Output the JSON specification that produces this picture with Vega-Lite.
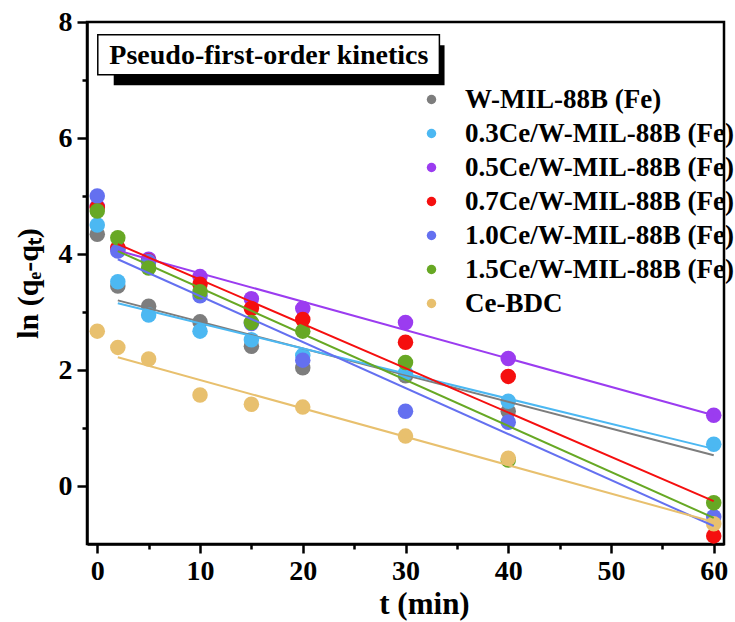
{
  "$schema": "https://vega.github.io/schema/vega-lite/v6.json",
  "width": 637,
  "height": 522,
  "autosize": "none",
  "padding": {"left": 87, "top": 22, "right": 11, "bottom": 78},
  "background": "white",
  "config": {
    "font": "Liberation Serif",
    "view": {"stroke": "black", "strokeWidth": 2.5},
    "axis": {"grid": false}
  },
  "datasets": {
    "pts": [
      {"s": "W-MIL-88B (Fe)", "t": 0, "v": 4.34},
      {"s": "W-MIL-88B (Fe)", "t": 2, "v": 3.45},
      {"s": "W-MIL-88B (Fe)", "t": 5, "v": 3.10},
      {"s": "W-MIL-88B (Fe)", "t": 10, "v": 2.83},
      {"s": "W-MIL-88B (Fe)", "t": 15, "v": 2.41},
      {"s": "W-MIL-88B (Fe)", "t": 20, "v": 2.04},
      {"s": "W-MIL-88B (Fe)", "t": 30, "v": 1.90},
      {"s": "W-MIL-88B (Fe)", "t": 40, "v": 1.29},
      {"s": "0.3Ce/W-MIL-88B (Fe)", "t": 0, "v": 4.50},
      {"s": "0.3Ce/W-MIL-88B (Fe)", "t": 2, "v": 3.52},
      {"s": "0.3Ce/W-MIL-88B (Fe)", "t": 5, "v": 2.95},
      {"s": "0.3Ce/W-MIL-88B (Fe)", "t": 10, "v": 2.67},
      {"s": "0.3Ce/W-MIL-88B (Fe)", "t": 15, "v": 2.52},
      {"s": "0.3Ce/W-MIL-88B (Fe)", "t": 20, "v": 2.25},
      {"s": "0.3Ce/W-MIL-88B (Fe)", "t": 30, "v": 1.95},
      {"s": "0.3Ce/W-MIL-88B (Fe)", "t": 40, "v": 1.46},
      {"s": "0.3Ce/W-MIL-88B (Fe)", "t": 60, "v": 0.72},
      {"s": "0.5Ce/W-MIL-88B (Fe)", "t": 0, "v": 4.82},
      {"s": "0.5Ce/W-MIL-88B (Fe)", "t": 2, "v": 4.08},
      {"s": "0.5Ce/W-MIL-88B (Fe)", "t": 5, "v": 3.91},
      {"s": "0.5Ce/W-MIL-88B (Fe)", "t": 10, "v": 3.61},
      {"s": "0.5Ce/W-MIL-88B (Fe)", "t": 15, "v": 3.23},
      {"s": "0.5Ce/W-MIL-88B (Fe)", "t": 20, "v": 3.06},
      {"s": "0.5Ce/W-MIL-88B (Fe)", "t": 30, "v": 2.82},
      {"s": "0.5Ce/W-MIL-88B (Fe)", "t": 40, "v": 2.20},
      {"s": "0.5Ce/W-MIL-88B (Fe)", "t": 60, "v": 1.22},
      {"s": "0.7Ce/W-MIL-88B (Fe)", "t": 0, "v": 4.80},
      {"s": "0.7Ce/W-MIL-88B (Fe)", "t": 2, "v": 4.11},
      {"s": "0.7Ce/W-MIL-88B (Fe)", "t": 5, "v": 3.88},
      {"s": "0.7Ce/W-MIL-88B (Fe)", "t": 10, "v": 3.48},
      {"s": "0.7Ce/W-MIL-88B (Fe)", "t": 15, "v": 3.06},
      {"s": "0.7Ce/W-MIL-88B (Fe)", "t": 20, "v": 2.87},
      {"s": "0.7Ce/W-MIL-88B (Fe)", "t": 30, "v": 2.48},
      {"s": "0.7Ce/W-MIL-88B (Fe)", "t": 40, "v": 1.89},
      {"s": "0.7Ce/W-MIL-88B (Fe)", "t": 60, "v": -0.86},
      {"s": "1.0Ce/W-MIL-88B (Fe)", "t": 0, "v": 5.00},
      {"s": "1.0Ce/W-MIL-88B (Fe)", "t": 2, "v": 4.05},
      {"s": "1.0Ce/W-MIL-88B (Fe)", "t": 5, "v": 3.87},
      {"s": "1.0Ce/W-MIL-88B (Fe)", "t": 10, "v": 3.28},
      {"s": "1.0Ce/W-MIL-88B (Fe)", "t": 15, "v": 2.80},
      {"s": "1.0Ce/W-MIL-88B (Fe)", "t": 20, "v": 2.17},
      {"s": "1.0Ce/W-MIL-88B (Fe)", "t": 30, "v": 1.29},
      {"s": "1.0Ce/W-MIL-88B (Fe)", "t": 40, "v": 1.10},
      {"s": "1.0Ce/W-MIL-88B (Fe)", "t": 60, "v": -0.53},
      {"s": "1.5Ce/W-MIL-88B (Fe)", "t": 0, "v": 4.74},
      {"s": "1.5Ce/W-MIL-88B (Fe)", "t": 2, "v": 4.28},
      {"s": "1.5Ce/W-MIL-88B (Fe)", "t": 5, "v": 3.76},
      {"s": "1.5Ce/W-MIL-88B (Fe)", "t": 10, "v": 3.35},
      {"s": "1.5Ce/W-MIL-88B (Fe)", "t": 15, "v": 2.82},
      {"s": "1.5Ce/W-MIL-88B (Fe)", "t": 20, "v": 2.67},
      {"s": "1.5Ce/W-MIL-88B (Fe)", "t": 30, "v": 2.13},
      {"s": "1.5Ce/W-MIL-88B (Fe)", "t": 40, "v": 0.45},
      {"s": "1.5Ce/W-MIL-88B (Fe)", "t": 60, "v": -0.29},
      {"s": "Ce-BDC", "t": 0, "v": 2.67},
      {"s": "Ce-BDC", "t": 2, "v": 2.39},
      {"s": "Ce-BDC", "t": 5, "v": 2.19},
      {"s": "Ce-BDC", "t": 10, "v": 1.57},
      {"s": "Ce-BDC", "t": 15, "v": 1.41},
      {"s": "Ce-BDC", "t": 20, "v": 1.36},
      {"s": "Ce-BDC", "t": 30, "v": 0.86},
      {"s": "Ce-BDC", "t": 40, "v": 0.48},
      {"s": "Ce-BDC", "t": 60, "v": -0.65}
    ],
    "fits": [
      {"s": "W-MIL-88B (Fe)", "t": 2, "v": 3.20},
      {"s": "W-MIL-88B (Fe)", "t": 60, "v": 0.53},
      {"s": "0.3Ce/W-MIL-88B (Fe)", "t": 2, "v": 3.15},
      {"s": "0.3Ce/W-MIL-88B (Fe)", "t": 60, "v": 0.64},
      {"s": "0.5Ce/W-MIL-88B (Fe)", "t": 2, "v": 4.06},
      {"s": "0.5Ce/W-MIL-88B (Fe)", "t": 60, "v": 1.22},
      {"s": "0.7Ce/W-MIL-88B (Fe)", "t": 2, "v": 4.17},
      {"s": "0.7Ce/W-MIL-88B (Fe)", "t": 60, "v": -0.26},
      {"s": "1.0Ce/W-MIL-88B (Fe)", "t": 2, "v": 3.91},
      {"s": "1.0Ce/W-MIL-88B (Fe)", "t": 60, "v": -0.69},
      {"s": "1.5Ce/W-MIL-88B (Fe)", "t": 2, "v": 4.05},
      {"s": "1.5Ce/W-MIL-88B (Fe)", "t": 60, "v": -0.55},
      {"s": "Ce-BDC", "t": 2, "v": 2.22},
      {"s": "Ce-BDC", "t": 60, "v": -0.62}
    ],
    "one": [{}]
  },
  "layer": [
    {
      "data": {"name": "pts"},
      "mark": {"type": "point", "filled": true, "shape": "circle", "size": 240, "opacity": 1},
      "encoding": {
        "x": {
          "field": "t", "type": "quantitative",
          "scale": {"domain": [-1, 61], "nice": false, "zero": false},
          "axis": {
            "values": [0, 5, 10, 15, 20, 25, 30, 35, 40, 45, 50, 55, 60],
            "format": "d",
            "labelExpr": "datum.value % 10 === 0 ? datum.label : ''",
            "title": "t (min)",
            "titleFont": "Liberation Serif", "titleFontWeight": "bold", "titleFontSize": 31, "titleColor": "black",
            "titleX": 337, "titleY": 60, "titleBaseline": "middle",
            "labelFont": "Liberation Serif", "labelFontWeight": "bold", "labelFontSize": 28, "labelColor": "black",
            "labelPadding": 4, "labelFlush": false, "labelOverlap": false,
            "domainColor": "black", "domainWidth": 2.5,
            "tickColor": "black", "tickWidth": 2.5,
            "tickSize": {"condition": {"test": "datum.value % 10 === 0", "value": 9}, "value": 5}
          }
        },
        "y": {
          "field": "v", "type": "quantitative",
          "scale": {"domain": [-1, 8], "nice": false, "zero": false},
          "axis": {
            "values": [0, 1, 2, 3, 4, 5, 6, 7, 8],
            "format": "d",
            "labelExpr": "datum.value % 2 === 0 ? datum.label : ''",
            "title": "ln (qₑ-qₜ)",
            "titleFont": "Liberation Serif", "titleFontWeight": "bold", "titleFontSize": 30, "titleColor": "black",
            "titleAngle": -90, "titleX": -59, "titleY": 261, "titleBaseline": "middle", "titleAlign": "center",
            "labelFont": "Liberation Serif", "labelFontWeight": "bold", "labelFontSize": 28, "labelColor": "black",
            "labelPadding": 5, "labelFlush": false, "labelOverlap": false,
            "domainColor": "black", "domainWidth": 2.5,
            "tickColor": "black", "tickWidth": 2.5,
            "tickSize": {"condition": {"test": "datum.value % 2 === 0", "value": 10}, "value": 5}
          }
        },
        "color": {
          "field": "s", "type": "nominal",
          "scale": {
            "domain": ["W-MIL-88B (Fe)", "0.3Ce/W-MIL-88B (Fe)", "0.5Ce/W-MIL-88B (Fe)", "0.7Ce/W-MIL-88B (Fe)", "1.0Ce/W-MIL-88B (Fe)", "1.5Ce/W-MIL-88B (Fe)", "Ce-BDC"],
            "range": ["#7d7d7d", "#4cb8f2", "#9b3cf0", "#f50f0f", "#6470f0", "#67a824", "#e8c06e"]
          },
          "legend": {
            "title": null, "orient": "none", "legendX": 331, "legendY": 64,
            "symbolType": "circle", "symbolSize": 90, "symbolStrokeWidth": 0,
            "labelFont": "Liberation Serif", "labelFontWeight": "bold", "labelFontSize": 27, "labelColor": "black",
            "labelOffset": 20, "rowPadding": 6, "padding": 0, "labelLimit": 400
          }
        }
      }
    },
    {
      "data": {"name": "fits"},
      "mark": {"type": "line", "strokeWidth": 2},
      "encoding": {
        "x": {"field": "t", "type": "quantitative"},
        "y": {"field": "v", "type": "quantitative"},
        "color": {"field": "s", "type": "nominal", "legend": null}
      }
    },
    {
      "data": {"name": "one"},
      "mark": {"type": "rect", "color": "black"},
      "encoding": {
        "x": {"datum": 1.6, "type": "quantitative"},
        "x2": {"datum": 33.8},
        "y": {"datum": 6.91, "type": "quantitative"},
        "y2": {"datum": 7.6}
      }
    },
    {
      "data": {"name": "one"},
      "mark": {"type": "rect", "fill": "white", "stroke": "black", "strokeWidth": 1.5},
      "encoding": {
        "x": {"datum": 0.05, "type": "quantitative"},
        "x2": {"datum": 33.3},
        "y": {"datum": 7.09, "type": "quantitative"},
        "y2": {"datum": 7.78}
      }
    },
    {
      "data": {"name": "one"},
      "mark": {"type": "text", "font": "Liberation Serif", "fontWeight": "bold", "fontSize": 28, "color": "black", "align": "center", "baseline": "middle"},
      "encoding": {
        "x": {"datum": 16.7, "type": "quantitative"},
        "y": {"datum": 7.41, "type": "quantitative"},
        "text": {"value": "Pseudo-first-order kinetics"}
      }
    }
  ]
}
